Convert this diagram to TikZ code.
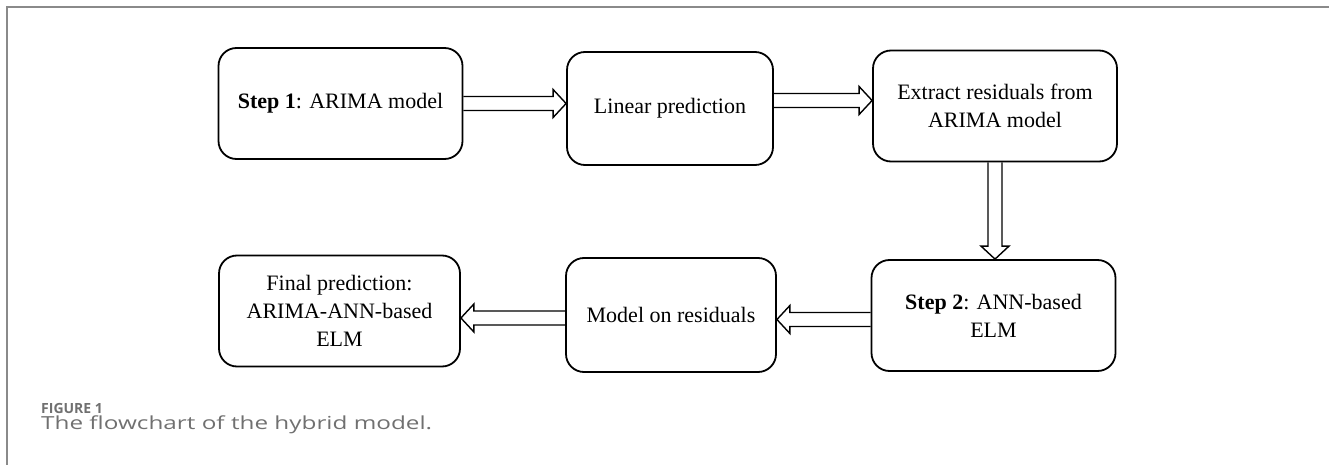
\documentclass[tikz,border=0pt]{standalone}
\usepackage{fontspec}
\setmainfont{Liberation Serif}
\newfontfamily\captionsans{Open Sans}
\newfontfamily\captionwide[FakeStretch=1.35]{Open Sans}
\usetikzlibrary{calc}
\definecolor{framegray}{HTML}{8A8A8A}
\definecolor{capgray}{HTML}{707070}

% hollow block arrow from #1 to #2 (open at the start end)
\newcommand{\hollowarrow}[2]{%
  \draw[arrowline] ($(#1)!7pt!90:(#2)$) -- ($(#2)!13pt!(#1)!7pt!-90:(#1)$)
    -- ($(#2)!13pt!(#1)!14pt!-90:(#1)$) -- (#2)
    -- ($(#2)!13pt!(#1)!14pt!90:(#1)$) -- ($(#2)!13pt!(#1)!7pt!90:(#1)$)
    -- ($(#1)!7pt!-90:(#2)$);}

\begin{document}
\begin{tikzpicture}[x=1pt,y=-1pt,
    stepbox/.style={draw=black,line width=1.8pt,rounded corners=18pt,
      minimum width=244pt,minimum height=111pt,align=center,
      font=\fontsize{22pt}{28pt}\selectfont},
    arrowline/.style={draw=black,line width=1.4pt,line join=miter}]
  \useasboundingbox (0,0) rectangle (1329,465);
  \draw[framegray,line width=2pt] (7,465) -- (7,7) -- (1329,7);

  \node[stepbox] (arima) at (340.5,103.5) {\textbf{Step 1}: ARIMA model};
  \node[stepbox,minimum width=206pt,minimum height=113pt] (linear) at (670,108.5) {Linear prediction};
  \node[stepbox] (resid) at (995,106) {Extract residuals from\\ARIMA model};
  \node[stepbox] (elm) at (993.5,315.5) {\textbf{Step 2}: ANN-based\\ELM};
  \node[stepbox,minimum width=210pt,minimum height=114pt] (onres) at (671,315) {Model on residuals};
  \node[stepbox,minimum width=241pt] (final) at (339.5,311) {Final prediction:\\ARIMA-ANN-based\\ELM};

  \coordinate (a1s) at (arima.east);
  \coordinate (a1e) at (a1s -| linear.west);
  \coordinate (a2s) at ([yshift=8pt]linear.east);
  \coordinate (a2e) at (a2s -| resid.west);
  \coordinate (a3s) at (resid.south);
  \coordinate (a3e) at (a3s |- elm.north);
  \coordinate (a4s) at ([yshift=-4pt]elm.west);
  \coordinate (a4e) at (a4s -| onres.east);
  \coordinate (a5s) at ([yshift=-3pt]onres.west);
  \coordinate (a5e) at (a5s -| final.east);
  \hollowarrow{a1s}{a1e}
  \hollowarrow{a2s}{a2e}
  \hollowarrow{a3s}{a3e}
  \hollowarrow{a4s}{a4e}
  \hollowarrow{a5s}{a5e}

  \node[anchor=base west,inner sep=0pt,text=capgray,font=\captionsans\bfseries\fontsize{14pt}{16pt}\selectfont] (fignum) at (41,413) {FIGURE 1};
  \node[anchor=base west,inner sep=0pt,text=capgray,font=\captionwide\fontsize{18pt}{21pt}\selectfont] (figcap) at (41,429) {The flowchart of the hybrid model.};
\end{tikzpicture}
\end{document}
